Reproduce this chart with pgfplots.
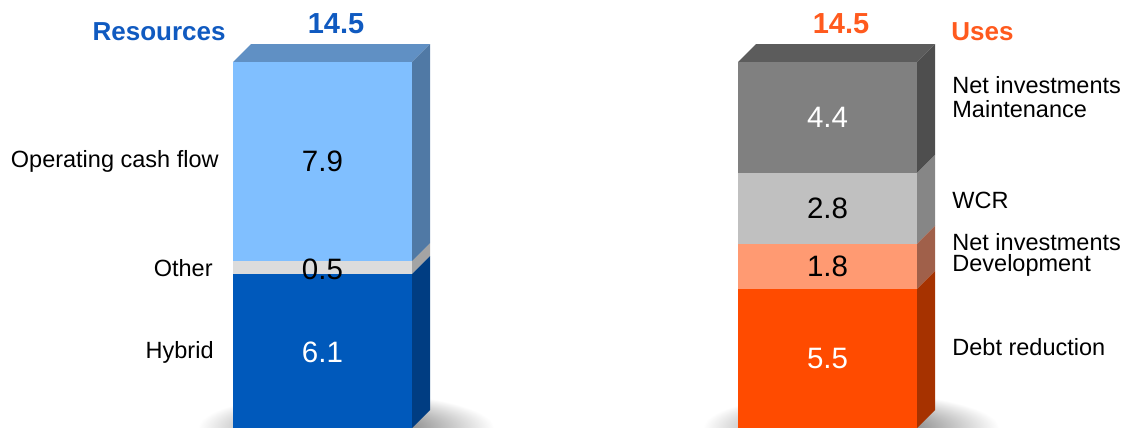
\documentclass[border=0pt]{standalone}
\usepackage{pgfplots}
\pgfplotsset{compat=1.18}
\usepackage{fontspec}
\setmainfont{Liberation Sans}
\definecolor{hyb}{HTML}{0059BB}
\definecolor{hybside}{HTML}{003D82}
\definecolor{oth}{HTML}{DCDCDC}
\definecolor{othside}{HTML}{A4A4A4}
\definecolor{ocf}{HTML}{80BFFF}
\definecolor{ocfside}{HTML}{5079A5}
\definecolor{ocftop}{HTML}{6090C4}
\definecolor{debt}{HTML}{FF4B00}
\definecolor{debtside}{HTML}{A63200}
\definecolor{dev}{HTML}{FF9A72}
\definecolor{devside}{HTML}{A0604A}
\definecolor{wcr}{HTML}{C0C0C0}
\definecolor{wcrside}{HTML}{868686}
\definecolor{mnt}{HTML}{808080}
\definecolor{mntside}{HTML}{4E4E4E}
\definecolor{mnttop}{HTML}{5C5C5C}
\definecolor{tblue}{HTML}{105AC0}
\definecolor{torange}{HTML}{FF5A1E}
\newcommand{\lab}{\fontsize{11.75}{11.75}\selectfont}
\newcommand{\val}{\fontsize{14.75}{14.75}\selectfont}
\begin{document}
\begin{tikzpicture}[every node/.style={inner sep=0pt}]
\clip (0,0) rectangle (565pt,214pt);
% soft shadows under the bars (decoration)
\shade[inner color=black!75, outer color=white] (173pt,0pt) ellipse [x radius=74pt, y radius=18pt];
\shade[inner color=black!75, outer color=white] (425.5pt,0pt) ellipse [x radius=74pt, y radius=18pt];
\begin{axis}[at={(0,0)}, anchor=south west, scale only axis,
  width=565pt, height=214pt, xmin=0, xmax=1130, ymin=0, ymax=16.957,
  hide axis, ybar stacked, bar width=179, clip=false]
% left bar: Hybrid, Other, Operating cash flow
\addplot[fill=hyb, draw=none] coordinates {(322.5,6.1) (827.5,0)};
\addplot[fill=oth, draw=none] coordinates {(322.5,0.5) (827.5,0)};
\addplot[fill=ocf, draw=none] coordinates {(322.5,7.9) (827.5,0)};
% right bar: Debt reduction, Development, WCR, Maintenance
\addplot[fill=debt, draw=none] coordinates {(322.5,0) (827.5,5.5)};
\addplot[fill=dev, draw=none] coordinates {(322.5,0) (827.5,1.8)};
\addplot[fill=wcr, draw=none] coordinates {(322.5,0) (827.5,2.8)};
\addplot[fill=mnt, draw=none] coordinates {(322.5,0) (827.5,4.4)};
% 3D side and top faces
\addplot[stack plots=false, sharp plot, fill=hybside, draw=none] coordinates {(412,0) (430,0.713) (430,6.813) (412,6.1)} --cycle;
\addplot[stack plots=false, sharp plot, fill=othside, draw=none] coordinates {(412,6.1) (430,6.813) (430,7.313) (412,6.6)} --cycle;
\addplot[stack plots=false, sharp plot, fill=ocfside, draw=none] coordinates {(412,6.6) (430,7.313) (430,15.213) (412,14.5)} --cycle;
\addplot[stack plots=false, sharp plot, fill=ocftop, draw=none] coordinates {(233,14.5) (251,15.213) (430,15.213) (412,14.5)} --cycle;
\addplot[stack plots=false, sharp plot, fill=debtside, draw=none] coordinates {(917,0) (935,0.713) (935,6.213) (917,5.5)} --cycle;
\addplot[stack plots=false, sharp plot, fill=devside, draw=none] coordinates {(917,5.5) (935,6.213) (935,8.013) (917,7.3)} --cycle;
\addplot[stack plots=false, sharp plot, fill=wcrside, draw=none] coordinates {(917,7.3) (935,8.013) (935,10.813) (917,10.1)} --cycle;
\addplot[stack plots=false, sharp plot, fill=mntside, draw=none] coordinates {(917,10.1) (935,10.813) (935,15.213) (917,14.5)} --cycle;
\addplot[stack plots=false, sharp plot, fill=mnttop, draw=none] coordinates {(738,14.5) (756,15.213) (935,15.213) (917,14.5)} --cycle;
% anchor points for the texts
\coordinate (tRes) at (axis cs:226,15.333);
\coordinate (tTotL) at (axis cs:336,15.61);
\coordinate (tTotR) at (axis cs:841,15.61);
\coordinate (tUses) at (axis cs:951,15.333);
\coordinate (lOCF) at (axis cs:219,10.301);
\coordinate (lOth) at (axis cs:213,6.022);
\coordinate (lHyb) at (axis cs:214,2.773);
\coordinate (rM1) at (axis cs:952,13.233);
\coordinate (rM2) at (axis cs:952,12.282);
\coordinate (rW) at (axis cs:952,8.716);
\coordinate (rD1) at (axis cs:952,7.052);
\coordinate (rD2) at (axis cs:952,6.181);
\coordinate (rDebt) at (axis cs:952,2.853);
\coordinate (vHyb) at (axis cs:322.5,3.0);
\coordinate (vOth) at (axis cs:322.5,6.3);
\coordinate (vOCF) at (axis cs:322.5,10.55);
\coordinate (vDebt) at (axis cs:827.5,2.75);
\coordinate (vDev) at (axis cs:827.5,6.4);
\coordinate (vW) at (axis cs:827.5,8.7);
\coordinate (vM) at (axis cs:827.5,12.3);
\end{axis}
% titles
\node[anchor=base east, text=tblue, font=\fontsize{13}{13}\selectfont\bfseries] at (tRes) {Resources};
\node[anchor=base, text=tblue, font=\fontsize{14.5}{14.5}\selectfont\bfseries] at (tTotL) {14.5};
\node[anchor=base, text=torange, font=\fontsize{14.5}{14.5}\selectfont\bfseries] at (tTotR) {14.5};
\node[anchor=base west, text=torange, font=\fontsize{13}{13}\selectfont\bfseries] at (tUses) {Uses};
% left labels
\node[anchor=base east, font=\lab] at (lOCF) {Operating cash flow};
\node[anchor=base east, font=\lab] at (lOth) {Other};
\node[anchor=base east, font=\lab] at (lHyb) {Hybrid};
% right labels
\node[anchor=base west, font=\lab] at (rM1) {Net investments};
\node[anchor=base west, font=\lab] at (rM2) {Maintenance};
\node[anchor=base west, font=\lab] at (rW) {WCR};
\node[anchor=base west, font=\lab] at (rD1) {Net investments};
\node[anchor=base west, font=\lab] at (rD2) {Development};
\node[anchor=base west, font=\lab] at (rDebt) {Debt reduction};
% values
\node[font=\val, text=white] at (vHyb) {6.1};
\node[font=\val] at (vOth) {0.5};
\node[font=\val] at (vOCF) {7.9};
\node[font=\val, text=white] at (vDebt) {5.5};
\node[font=\val] at (vDev) {1.8};
\node[font=\val] at (vW) {2.8};
\node[font=\val, text=white] at (vM) {4.4};
\end{tikzpicture}
\end{document}
